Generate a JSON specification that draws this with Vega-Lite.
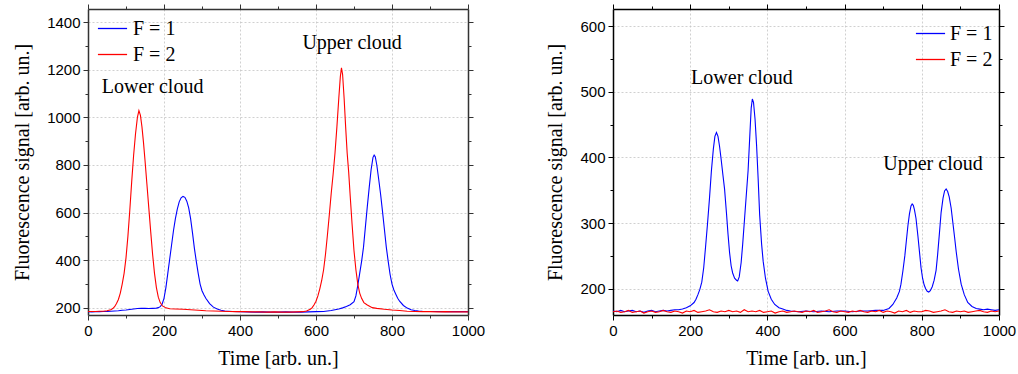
{
"$schema": "https://vega.github.io/schema/vega-lite/v6.json",
"padding": {"left": 12, "top": 3, "right": 2, "bottom": 5},
"background": "white",
"config": {
  "view": {"stroke": null},
  "axis": {"labelFont": "Liberation Sans", "labelFontSize": 15, "labelColor": "black", "titleFont": "Liberation Serif", "titleFontSize": 20, "titleFontWeight": "normal", "titleColor": "black", "domainColor": "#333333", "domainWidth": 1.5, "tickColor": "#333333", "tickWidth": 1, "gridColor": "#c4c4c4", "gridDash": [2, 2], "gridWidth": 0.8, "labelFlush": false, "labelOverlap": false, "labelBound": false, "labelPadding": 3},
  "legend": {"labelFont": "Liberation Serif", "labelFontSize": 20, "labelColor": "black", "symbolType": "stroke", "symbolSize": 850, "symbolStrokeWidth": 1.3, "labelOffset": 5, "rowPadding": 0, "padding": 0, "title": null}
},
"datasets": {
  "left": [
    {"t":0,"v":184,"F":"F = 1"},{"t":10,"v":183,"F":"F = 1"},{"t":20,"v":184,"F":"F = 1"},{"t":30,"v":184,"F":"F = 1"},{"t":40,"v":185,"F":"F = 1"},{"t":50,"v":185,"F":"F = 1"},{"t":60,"v":186,"F":"F = 1"},{"t":70,"v":187,"F":"F = 1"},{"t":80,"v":188,"F":"F = 1"},{"t":90,"v":190,"F":"F = 1"},{"t":100,"v":191,"F":"F = 1"},{"t":110,"v":193,"F":"F = 1"},{"t":120,"v":195,"F":"F = 1"},{"t":130,"v":197,"F":"F = 1"},{"t":140,"v":198,"F":"F = 1"},{"t":150,"v":198,"F":"F = 1"},{"t":160,"v":197,"F":"F = 1"},{"t":170,"v":198,"F":"F = 1"},{"t":180,"v":199,"F":"F = 1"},{"t":185,"v":201,"F":"F = 1"},{"t":190,"v":205,"F":"F = 1"},{"t":195,"v":215,"F":"F = 1"},{"t":200,"v":240,"F":"F = 1"},{"t":205,"v":285,"F":"F = 1"},{"t":210,"v":345,"F":"F = 1"},{"t":215,"v":405,"F":"F = 1"},{"t":220,"v":465,"F":"F = 1"},{"t":225,"v":525,"F":"F = 1"},{"t":230,"v":575,"F":"F = 1"},{"t":235,"v":615,"F":"F = 1"},{"t":240,"v":645,"F":"F = 1"},{"t":245,"v":662,"F":"F = 1"},{"t":250,"v":668,"F":"F = 1"},{"t":255,"v":664,"F":"F = 1"},{"t":260,"v":648,"F":"F = 1"},{"t":265,"v":620,"F":"F = 1"},{"t":270,"v":575,"F":"F = 1"},{"t":275,"v":515,"F":"F = 1"},{"t":280,"v":450,"F":"F = 1"},{"t":285,"v":395,"F":"F = 1"},{"t":290,"v":345,"F":"F = 1"},{"t":295,"v":300,"F":"F = 1"},{"t":300,"v":272,"F":"F = 1"},{"t":305,"v":255,"F":"F = 1"},{"t":310,"v":240,"F":"F = 1"},{"t":320,"v":218,"F":"F = 1"},{"t":330,"v":203,"F":"F = 1"},{"t":340,"v":195,"F":"F = 1"},{"t":350,"v":190,"F":"F = 1"},{"t":360,"v":187,"F":"F = 1"},{"t":370,"v":186,"F":"F = 1"},{"t":380,"v":185,"F":"F = 1"},{"t":400,"v":184,"F":"F = 1"},{"t":420,"v":183,"F":"F = 1"},{"t":440,"v":182,"F":"F = 1"},{"t":460,"v":183,"F":"F = 1"},{"t":480,"v":182,"F":"F = 1"},{"t":500,"v":182,"F":"F = 1"},{"t":520,"v":183,"F":"F = 1"},{"t":540,"v":182,"F":"F = 1"},{"t":560,"v":182,"F":"F = 1"},{"t":580,"v":183,"F":"F = 1"},{"t":600,"v":184,"F":"F = 1"},{"t":620,"v":185,"F":"F = 1"},{"t":640,"v":189,"F":"F = 1"},{"t":660,"v":195,"F":"F = 1"},{"t":670,"v":200,"F":"F = 1"},{"t":680,"v":206,"F":"F = 1"},{"t":690,"v":213,"F":"F = 1"},{"t":700,"v":226,"F":"F = 1"},{"t":705,"v":250,"F":"F = 1"},{"t":710,"v":295,"F":"F = 1"},{"t":715,"v":345,"F":"F = 1"},{"t":720,"v":395,"F":"F = 1"},{"t":725,"v":455,"F":"F = 1"},{"t":730,"v":540,"F":"F = 1"},{"t":735,"v":625,"F":"F = 1"},{"t":740,"v":705,"F":"F = 1"},{"t":745,"v":780,"F":"F = 1"},{"t":750,"v":832,"F":"F = 1"},{"t":753,"v":842,"F":"F = 1"},{"t":756,"v":835,"F":"F = 1"},{"t":760,"v":800,"F":"F = 1"},{"t":765,"v":740,"F":"F = 1"},{"t":770,"v":677,"F":"F = 1"},{"t":775,"v":605,"F":"F = 1"},{"t":780,"v":530,"F":"F = 1"},{"t":785,"v":455,"F":"F = 1"},{"t":790,"v":395,"F":"F = 1"},{"t":795,"v":340,"F":"F = 1"},{"t":800,"v":300,"F":"F = 1"},{"t":805,"v":275,"F":"F = 1"},{"t":810,"v":257,"F":"F = 1"},{"t":815,"v":240,"F":"F = 1"},{"t":820,"v":228,"F":"F = 1"},{"t":830,"v":210,"F":"F = 1"},{"t":840,"v":199,"F":"F = 1"},{"t":850,"v":192,"F":"F = 1"},{"t":860,"v":189,"F":"F = 1"},{"t":870,"v":187,"F":"F = 1"},{"t":880,"v":186,"F":"F = 1"},{"t":900,"v":185,"F":"F = 1"},{"t":920,"v":185,"F":"F = 1"},{"t":940,"v":184,"F":"F = 1"},{"t":960,"v":184,"F":"F = 1"},{"t":980,"v":184,"F":"F = 1"},{"t":1000,"v":184,"F":"F = 1"},
    {"t":0,"v":185,"F":"F = 2"},{"t":10,"v":185,"F":"F = 2"},{"t":20,"v":185,"F":"F = 2"},{"t":30,"v":186,"F":"F = 2"},{"t":40,"v":186,"F":"F = 2"},{"t":50,"v":188,"F":"F = 2"},{"t":60,"v":192,"F":"F = 2"},{"t":65,"v":197,"F":"F = 2"},{"t":70,"v":205,"F":"F = 2"},{"t":75,"v":218,"F":"F = 2"},{"t":80,"v":235,"F":"F = 2"},{"t":85,"v":262,"F":"F = 2"},{"t":90,"v":300,"F":"F = 2"},{"t":95,"v":345,"F":"F = 2"},{"t":100,"v":410,"F":"F = 2"},{"t":105,"v":500,"F":"F = 2"},{"t":110,"v":610,"F":"F = 2"},{"t":115,"v":730,"F":"F = 2"},{"t":120,"v":840,"F":"F = 2"},{"t":125,"v":930,"F":"F = 2"},{"t":130,"v":1000,"F":"F = 2"},{"t":134,"v":1028,"F":"F = 2"},{"t":138,"v":1008,"F":"F = 2"},{"t":142,"v":960,"F":"F = 2"},{"t":146,"v":895,"F":"F = 2"},{"t":150,"v":820,"F":"F = 2"},{"t":155,"v":720,"F":"F = 2"},{"t":160,"v":620,"F":"F = 2"},{"t":165,"v":520,"F":"F = 2"},{"t":170,"v":425,"F":"F = 2"},{"t":175,"v":345,"F":"F = 2"},{"t":180,"v":285,"F":"F = 2"},{"t":185,"v":245,"F":"F = 2"},{"t":190,"v":222,"F":"F = 2"},{"t":196,"v":208,"F":"F = 2"},{"t":205,"v":200,"F":"F = 2"},{"t":215,"v":196,"F":"F = 2"},{"t":230,"v":195,"F":"F = 2"},{"t":250,"v":194,"F":"F = 2"},{"t":270,"v":192,"F":"F = 2"},{"t":290,"v":190,"F":"F = 2"},{"t":310,"v":188,"F":"F = 2"},{"t":330,"v":187,"F":"F = 2"},{"t":350,"v":186,"F":"F = 2"},{"t":371,"v":185,"F":"F = 2"},{"t":390,"v":184,"F":"F = 2"},{"t":410,"v":184,"F":"F = 2"},{"t":430,"v":183,"F":"F = 2"},{"t":450,"v":183,"F":"F = 2"},{"t":470,"v":182,"F":"F = 2"},{"t":490,"v":183,"F":"F = 2"},{"t":510,"v":182,"F":"F = 2"},{"t":530,"v":182,"F":"F = 2"},{"t":550,"v":183,"F":"F = 2"},{"t":565,"v":184,"F":"F = 2"},{"t":575,"v":187,"F":"F = 2"},{"t":585,"v":194,"F":"F = 2"},{"t":590,"v":201,"F":"F = 2"},{"t":595,"v":213,"F":"F = 2"},{"t":600,"v":228,"F":"F = 2"},{"t":605,"v":250,"F":"F = 2"},{"t":610,"v":280,"F":"F = 2"},{"t":615,"v":315,"F":"F = 2"},{"t":620,"v":360,"F":"F = 2"},{"t":625,"v":425,"F":"F = 2"},{"t":630,"v":505,"F":"F = 2"},{"t":635,"v":590,"F":"F = 2"},{"t":640,"v":680,"F":"F = 2"},{"t":645,"v":760,"F":"F = 2"},{"t":650,"v":850,"F":"F = 2"},{"t":655,"v":960,"F":"F = 2"},{"t":660,"v":1080,"F":"F = 2"},{"t":664,"v":1170,"F":"F = 2"},{"t":667,"v":1208,"F":"F = 2"},{"t":670,"v":1180,"F":"F = 2"},{"t":674,"v":1080,"F":"F = 2"},{"t":678,"v":960,"F":"F = 2"},{"t":682,"v":850,"F":"F = 2"},{"t":686,"v":770,"F":"F = 2"},{"t":690,"v":670,"F":"F = 2"},{"t":695,"v":550,"F":"F = 2"},{"t":700,"v":440,"F":"F = 2"},{"t":705,"v":360,"F":"F = 2"},{"t":710,"v":300,"F":"F = 2"},{"t":715,"v":262,"F":"F = 2"},{"t":720,"v":240,"F":"F = 2"},{"t":726,"v":222,"F":"F = 2"},{"t":735,"v":212,"F":"F = 2"},{"t":748,"v":201,"F":"F = 2"},{"t":760,"v":198,"F":"F = 2"},{"t":780,"v":194,"F":"F = 2"},{"t":800,"v":191,"F":"F = 2"},{"t":820,"v":189,"F":"F = 2"},{"t":840,"v":186,"F":"F = 2"},{"t":860,"v":185,"F":"F = 2"},{"t":880,"v":184,"F":"F = 2"},{"t":900,"v":184,"F":"F = 2"},{"t":920,"v":183,"F":"F = 2"},{"t":940,"v":184,"F":"F = 2"},{"t":960,"v":183,"F":"F = 2"},{"t":980,"v":183,"F":"F = 2"},{"t":1000,"v":183,"F":"F = 2"}
  ],
  "right": [
    {"t":0,"v":166,"F":"F = 1"},{"t":10,"v":165,"F":"F = 1"},{"t":20,"v":167,"F":"F = 1"},{"t":30,"v":165,"F":"F = 1"},{"t":40,"v":166,"F":"F = 1"},{"t":50,"v":167,"F":"F = 1"},{"t":60,"v":165,"F":"F = 1"},{"t":70,"v":166,"F":"F = 1"},{"t":80,"v":164,"F":"F = 1"},{"t":90,"v":166,"F":"F = 1"},{"t":100,"v":167,"F":"F = 1"},{"t":110,"v":165,"F":"F = 1"},{"t":120,"v":166,"F":"F = 1"},{"t":130,"v":167,"F":"F = 1"},{"t":140,"v":166,"F":"F = 1"},{"t":150,"v":167,"F":"F = 1"},{"t":160,"v":168,"F":"F = 1"},{"t":170,"v":168,"F":"F = 1"},{"t":180,"v":169,"F":"F = 1"},{"t":190,"v":171,"F":"F = 1"},{"t":200,"v":174,"F":"F = 1"},{"t":210,"v":179,"F":"F = 1"},{"t":215,"v":184,"F":"F = 1"},{"t":220,"v":191,"F":"F = 1"},{"t":225,"v":199,"F":"F = 1"},{"t":230,"v":210,"F":"F = 1"},{"t":235,"v":232,"F":"F = 1"},{"t":240,"v":265,"F":"F = 1"},{"t":245,"v":300,"F":"F = 1"},{"t":250,"v":338,"F":"F = 1"},{"t":255,"v":380,"F":"F = 1"},{"t":260,"v":413,"F":"F = 1"},{"t":264,"v":432,"F":"F = 1"},{"t":268,"v":438,"F":"F = 1"},{"t":272,"v":432,"F":"F = 1"},{"t":276,"v":417,"F":"F = 1"},{"t":280,"v":398,"F":"F = 1"},{"t":285,"v":372,"F":"F = 1"},{"t":289,"v":352,"F":"F = 1"},{"t":294,"v":315,"F":"F = 1"},{"t":298,"v":283,"F":"F = 1"},{"t":302,"v":255,"F":"F = 1"},{"t":306,"v":235,"F":"F = 1"},{"t":310,"v":224,"F":"F = 1"},{"t":315,"v":216,"F":"F = 1"},{"t":320,"v":213,"F":"F = 1"},{"t":323,"v":212,"F":"F = 1"},{"t":327,"v":218,"F":"F = 1"},{"t":332,"v":240,"F":"F = 1"},{"t":336,"v":268,"F":"F = 1"},{"t":341,"v":308,"F":"F = 1"},{"t":346,"v":348,"F":"F = 1"},{"t":350,"v":380,"F":"F = 1"},{"t":355,"v":440,"F":"F = 1"},{"t":358,"v":475,"F":"F = 1"},{"t":361,"v":489,"F":"F = 1"},{"t":364,"v":484,"F":"F = 1"},{"t":368,"v":458,"F":"F = 1"},{"t":372,"v":418,"F":"F = 1"},{"t":376,"v":368,"F":"F = 1"},{"t":380,"v":312,"F":"F = 1"},{"t":385,"v":268,"F":"F = 1"},{"t":389,"v":242,"F":"F = 1"},{"t":395,"v":216,"F":"F = 1"},{"t":402,"v":196,"F":"F = 1"},{"t":410,"v":184,"F":"F = 1"},{"t":419,"v":176,"F":"F = 1"},{"t":430,"v":171,"F":"F = 1"},{"t":440,"v":169,"F":"F = 1"},{"t":450,"v":167,"F":"F = 1"},{"t":460,"v":166,"F":"F = 1"},{"t":480,"v":165,"F":"F = 1"},{"t":500,"v":166,"F":"F = 1"},{"t":520,"v":165,"F":"F = 1"},{"t":540,"v":166,"F":"F = 1"},{"t":560,"v":165,"F":"F = 1"},{"t":580,"v":166,"F":"F = 1"},{"t":600,"v":166,"F":"F = 1"},{"t":620,"v":165,"F":"F = 1"},{"t":640,"v":166,"F":"F = 1"},{"t":660,"v":166,"F":"F = 1"},{"t":680,"v":167,"F":"F = 1"},{"t":700,"v":167,"F":"F = 1"},{"t":715,"v":170,"F":"F = 1"},{"t":725,"v":176,"F":"F = 1"},{"t":735,"v":186,"F":"F = 1"},{"t":742,"v":196,"F":"F = 1"},{"t":746,"v":207,"F":"F = 1"},{"t":751,"v":227,"F":"F = 1"},{"t":756,"v":250,"F":"F = 1"},{"t":760,"v":273,"F":"F = 1"},{"t":764,"v":296,"F":"F = 1"},{"t":768,"v":314,"F":"F = 1"},{"t":772,"v":326,"F":"F = 1"},{"t":775,"v":329,"F":"F = 1"},{"t":778,"v":327,"F":"F = 1"},{"t":781,"v":320,"F":"F = 1"},{"t":785,"v":307,"F":"F = 1"},{"t":790,"v":280,"F":"F = 1"},{"t":795,"v":250,"F":"F = 1"},{"t":798,"v":232,"F":"F = 1"},{"t":802,"v":216,"F":"F = 1"},{"t":806,"v":206,"F":"F = 1"},{"t":810,"v":200,"F":"F = 1"},{"t":814,"v":196,"F":"F = 1"},{"t":818,"v":195,"F":"F = 1"},{"t":822,"v":197,"F":"F = 1"},{"t":827,"v":203,"F":"F = 1"},{"t":832,"v":213,"F":"F = 1"},{"t":837,"v":228,"F":"F = 1"},{"t":841,"v":252,"F":"F = 1"},{"t":846,"v":287,"F":"F = 1"},{"t":850,"v":316,"F":"F = 1"},{"t":855,"v":338,"F":"F = 1"},{"t":859,"v":349,"F":"F = 1"},{"t":863,"v":352,"F":"F = 1"},{"t":867,"v":348,"F":"F = 1"},{"t":871,"v":340,"F":"F = 1"},{"t":876,"v":323,"F":"F = 1"},{"t":881,"v":298,"F":"F = 1"},{"t":885,"v":278,"F":"F = 1"},{"t":889,"v":257,"F":"F = 1"},{"t":895,"v":230,"F":"F = 1"},{"t":902,"v":207,"F":"F = 1"},{"t":910,"v":191,"F":"F = 1"},{"t":919,"v":179,"F":"F = 1"},{"t":930,"v":173,"F":"F = 1"},{"t":941,"v":170,"F":"F = 1"},{"t":950,"v":169,"F":"F = 1"},{"t":960,"v":168,"F":"F = 1"},{"t":970,"v":169,"F":"F = 1"},{"t":980,"v":168,"F":"F = 1"},{"t":990,"v":167,"F":"F = 1"},{"t":1000,"v":168,"F":"F = 1"},
    {"t":0,"v":165,"F":"F = 2"},{"t":10,"v":166,"F":"F = 2"},{"t":20,"v":164,"F":"F = 2"},{"t":30,"v":165,"F":"F = 2"},{"t":40,"v":167,"F":"F = 2"},{"t":50,"v":164,"F":"F = 2"},{"t":60,"v":165,"F":"F = 2"},{"t":70,"v":166,"F":"F = 2"},{"t":80,"v":163,"F":"F = 2"},{"t":90,"v":165,"F":"F = 2"},{"t":100,"v":166,"F":"F = 2"},{"t":110,"v":164,"F":"F = 2"},{"t":120,"v":165,"F":"F = 2"},{"t":130,"v":167,"F":"F = 2"},{"t":140,"v":165,"F":"F = 2"},{"t":150,"v":164,"F":"F = 2"},{"t":160,"v":166,"F":"F = 2"},{"t":170,"v":165,"F":"F = 2"},{"t":180,"v":163,"F":"F = 2"},{"t":190,"v":166,"F":"F = 2"},{"t":200,"v":165,"F":"F = 2"},{"t":210,"v":167,"F":"F = 2"},{"t":220,"v":164,"F":"F = 2"},{"t":230,"v":165,"F":"F = 2"},{"t":240,"v":166,"F":"F = 2"},{"t":250,"v":168,"F":"F = 2"},{"t":260,"v":165,"F":"F = 2"},{"t":270,"v":164,"F":"F = 2"},{"t":280,"v":166,"F":"F = 2"},{"t":290,"v":165,"F":"F = 2"},{"t":300,"v":167,"F":"F = 2"},{"t":310,"v":165,"F":"F = 2"},{"t":320,"v":166,"F":"F = 2"},{"t":330,"v":164,"F":"F = 2"},{"t":340,"v":168,"F":"F = 2"},{"t":350,"v":165,"F":"F = 2"},{"t":360,"v":166,"F":"F = 2"},{"t":370,"v":165,"F":"F = 2"},{"t":380,"v":167,"F":"F = 2"},{"t":390,"v":164,"F":"F = 2"},{"t":400,"v":165,"F":"F = 2"},{"t":410,"v":166,"F":"F = 2"},{"t":420,"v":163,"F":"F = 2"},{"t":430,"v":165,"F":"F = 2"},{"t":440,"v":166,"F":"F = 2"},{"t":450,"v":164,"F":"F = 2"},{"t":460,"v":165,"F":"F = 2"},{"t":470,"v":166,"F":"F = 2"},{"t":480,"v":165,"F":"F = 2"},{"t":490,"v":164,"F":"F = 2"},{"t":500,"v":166,"F":"F = 2"},{"t":510,"v":165,"F":"F = 2"},{"t":520,"v":167,"F":"F = 2"},{"t":530,"v":164,"F":"F = 2"},{"t":540,"v":165,"F":"F = 2"},{"t":550,"v":166,"F":"F = 2"},{"t":560,"v":168,"F":"F = 2"},{"t":570,"v":165,"F":"F = 2"},{"t":580,"v":164,"F":"F = 2"},{"t":590,"v":166,"F":"F = 2"},{"t":600,"v":165,"F":"F = 2"},{"t":610,"v":164,"F":"F = 2"},{"t":620,"v":166,"F":"F = 2"},{"t":630,"v":165,"F":"F = 2"},{"t":640,"v":167,"F":"F = 2"},{"t":650,"v":165,"F":"F = 2"},{"t":660,"v":164,"F":"F = 2"},{"t":670,"v":166,"F":"F = 2"},{"t":680,"v":165,"F":"F = 2"},{"t":690,"v":167,"F":"F = 2"},{"t":700,"v":164,"F":"F = 2"},{"t":710,"v":166,"F":"F = 2"},{"t":720,"v":165,"F":"F = 2"},{"t":730,"v":163,"F":"F = 2"},{"t":740,"v":166,"F":"F = 2"},{"t":750,"v":165,"F":"F = 2"},{"t":760,"v":167,"F":"F = 2"},{"t":770,"v":164,"F":"F = 2"},{"t":780,"v":166,"F":"F = 2"},{"t":790,"v":165,"F":"F = 2"},{"t":800,"v":165,"F":"F = 2"},{"t":810,"v":167,"F":"F = 2"},{"t":820,"v":166,"F":"F = 2"},{"t":830,"v":164,"F":"F = 2"},{"t":840,"v":165,"F":"F = 2"},{"t":850,"v":166,"F":"F = 2"},{"t":860,"v":168,"F":"F = 2"},{"t":870,"v":165,"F":"F = 2"},{"t":880,"v":164,"F":"F = 2"},{"t":890,"v":166,"F":"F = 2"},{"t":900,"v":165,"F":"F = 2"},{"t":910,"v":166,"F":"F = 2"},{"t":920,"v":164,"F":"F = 2"},{"t":930,"v":165,"F":"F = 2"},{"t":940,"v":166,"F":"F = 2"},{"t":950,"v":167,"F":"F = 2"},{"t":960,"v":165,"F":"F = 2"},{"t":970,"v":164,"F":"F = 2"},{"t":980,"v":166,"F":"F = 2"},{"t":990,"v":165,"F":"F = 2"},{"t":1000,"v":166,"F":"F = 2"}
  ],
  "labelsL": [{"t":170,"v":1127,"label":"Lower cloud"},{"t":695,"v":1312,"label":"Upper cloud"}],
  "labelsR": [{"t":334,"v":521,"label":"Lower cloud"},{"t":829,"v":390,"label":"Upper cloud"}]
},
"hconcat": [
  {
    "width": 380, "height": 306,
    "layer": [
      {
        "data": {"name": "left"},
        "mark": {"type": "line", "strokeWidth": 1.1, "clip": true},
        "encoding": {
          "x": {"field": "t", "type": "quantitative", "scale": {"domain": [0, 1000], "nice": false, "zero": false},
                "axis": {"orient": "bottom", "values": [0,100,200,300,400,500,600,700,800,900,1000], "format": "d", "labelExpr": "datum.value % 200 === 0 ? datum.label : ''", "tickSize": {"condition": {"test": "datum.value % 200 === 0", "value": 5}, "value": 3}, "grid": true, "gridOpacity": {"condition": {"test": "datum.value % 200 === 0 && datum.value > 0 && datum.value < 1000", "value": 1}, "value": 0}, "title": "Time [arb. un.]", "titlePadding": 10}},
          "y": {"field": "v", "type": "quantitative", "scale": {"domain": [170, 1455], "nice": false, "zero": false},
                "axis": {"orient": "left", "values": [200,300,400,500,600,700,800,900,1000,1100,1200,1300,1400], "format": "d", "labelExpr": "datum.value % 200 === 0 ? datum.label : ''", "tickSize": {"condition": {"test": "datum.value % 200 === 0", "value": 5}, "value": 3}, "grid": true, "gridOpacity": {"condition": {"test": "datum.value % 200 === 0", "value": 1}, "value": 0}, "title": "Fluorescence signal [arb. un.]", "titlePadding": 14}},
          "color": {"field": "F", "type": "nominal", "scale": {"domain": ["F = 1", "F = 2"], "range": ["#0000ff", "#ff0000"]},
                    "legend": {"orient": "none", "legendX": 9, "legendY": 4, "rowPadding": -1}}
        }
      },
      {
        "data": {"name": "labelsL"},
        "mark": {"type": "text", "font": "Liberation Serif", "fontSize": 20, "color": "black", "align": "center", "baseline": "middle"},
        "encoding": {
          "x": {"field": "t", "type": "quantitative", "scale": {"domain": [0, 1000], "nice": false, "zero": false},
                "axis": {"orient": "top", "values": [0,100,200,300,400,500,600,700,800,900,1000], "labels": false, "grid": false, "title": null, "tickSize": {"condition": {"test": "datum.value % 200 === 0", "value": 5}, "value": 3}}},
          "y": {"field": "v", "type": "quantitative", "scale": {"domain": [170, 1455], "nice": false, "zero": false},
                "axis": {"orient": "right", "values": [200,300,400,500,600,700,800,900,1000,1100,1200,1300,1400], "labels": false, "grid": false, "title": null, "tickSize": {"condition": {"test": "datum.value % 200 === 0", "value": 5}, "value": 3}}},
          "text": {"field": "label"}
        }
      }
    ],
    "resolve": {"axis": {"x": "independent", "y": "independent"}}
  },
  {
    "width": 386, "height": 306,
    "layer": [
      {
        "data": {"name": "right"},
        "mark": {"type": "line", "strokeWidth": 1.1, "clip": true},
        "encoding": {
          "x": {"field": "t", "type": "quantitative", "scale": {"domain": [0, 1000], "nice": false, "zero": false},
                "axis": {"orient": "bottom", "values": [0,100,200,300,400,500,600,700,800,900,1000], "format": "d", "labelExpr": "datum.value % 200 === 0 ? datum.label : ''", "tickSize": {"condition": {"test": "datum.value % 200 === 0", "value": 5}, "value": 3}, "grid": true, "gridOpacity": {"condition": {"test": "datum.value % 200 === 0 && datum.value > 0 && datum.value < 1000", "value": 1}, "value": 0}, "title": "Time [arb. un.]", "titlePadding": 10, "domainColor": "black", "tickColor": "black"}},
          "y": {"field": "v", "type": "quantitative", "scale": {"domain": [160, 626], "nice": false, "zero": false},
                "axis": {"orient": "left", "values": [200,250,300,350,400,450,500,550,600], "format": "d", "labelExpr": "datum.value % 100 === 0 ? datum.label : ''", "tickSize": {"condition": {"test": "datum.value % 100 === 0", "value": 5}, "value": 3}, "grid": true, "gridOpacity": {"condition": {"test": "datum.value % 100 === 0", "value": 1}, "value": 0}, "title": "Fluorescence signal [arb. un.]", "titlePadding": 14, "domainColor": "black", "tickColor": "black"}},
          "color": {"field": "F", "type": "nominal", "scale": {"domain": ["F = 1", "F = 2"], "range": ["#0000ff", "#ff0000"]},
                    "legend": {"orient": "none", "legendX": 302, "legendY": 9, "rowPadding": -1, "labelOffset": 4}}
        }
      },
      {
        "data": {"name": "labelsR"},
        "mark": {"type": "text", "font": "Liberation Serif", "fontSize": 20, "color": "black", "align": "center", "baseline": "middle"},
        "encoding": {
          "x": {"field": "t", "type": "quantitative", "scale": {"domain": [0, 1000], "nice": false, "zero": false},
                "axis": {"orient": "top", "values": [0,100,200,300,400,500,600,700,800,900,1000], "labels": false, "grid": false, "title": null, "tickSize": {"condition": {"test": "datum.value % 200 === 0", "value": 5}, "value": 3}, "domainColor": "black", "tickColor": "black"}},
          "y": {"field": "v", "type": "quantitative", "scale": {"domain": [160, 626], "nice": false, "zero": false},
                "axis": {"orient": "right", "values": [200,250,300,350,400,450,500,550,600], "labels": false, "grid": false, "title": null, "tickSize": {"condition": {"test": "datum.value % 100 === 0", "value": 5}, "value": 3}, "domainColor": "black", "tickColor": "black"}},
          "text": {"field": "label"}
        }
      }
    ],
    "resolve": {"axis": {"x": "independent", "y": "independent"}}
  }
],
"spacing": 60,
"resolve": {"scale": {"color": "independent"}, "legend": {"color": "independent"}}
}
